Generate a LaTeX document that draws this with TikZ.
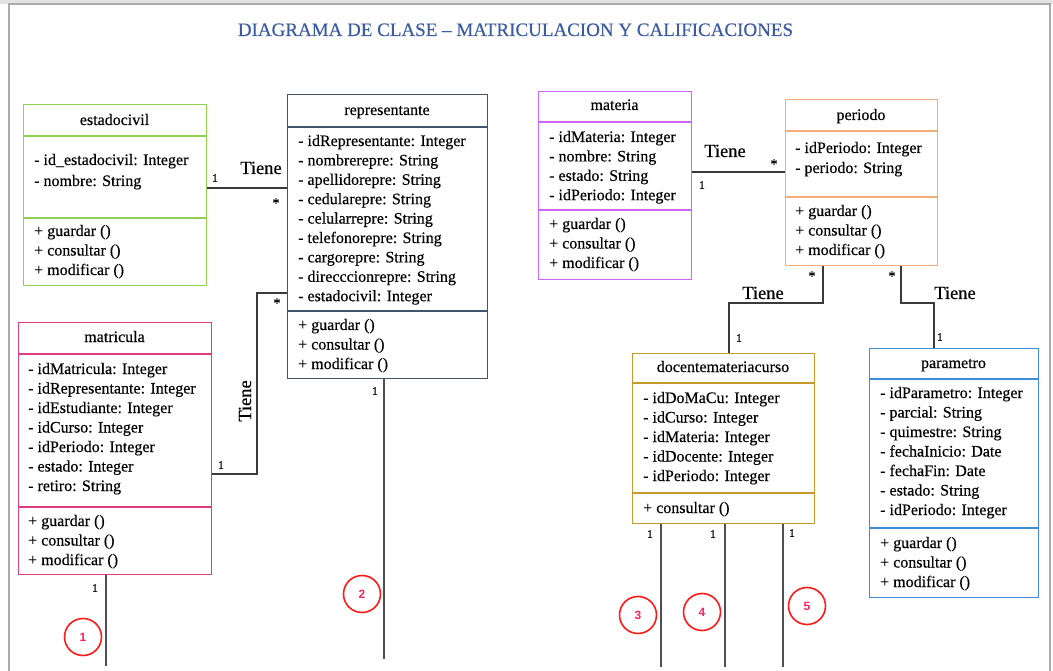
\documentclass[tikz,border=0pt]{standalone}
\usepackage{fontspec}
\setmainfont{Liberation Serif}[FakeBold=0.35]
\newfontfamily\numfont{Liberation Sans}
\definecolor{titleblue}{HTML}{3B5BA5}
\definecolor{cgreen}{HTML}{92D050}
\definecolor{cslate}{HTML}{44546A}
\definecolor{cpink}{HTML}{E03C84}
\definecolor{cviolet}{HTML}{CC66FF}
\definecolor{corange}{HTML}{F5AC78}
\definecolor{cgold}{HTML}{C49A2A}
\definecolor{cblue}{HTML}{3C8DD3}
\definecolor{linegray}{HTML}{3A3A3A}
\definecolor{stubgray}{HTML}{4F4F4F}
\definecolor{framegray}{HTML}{ABABAB}
\definecolor{markred}{HTML}{FF1A1A}
\definecolor{marktext}{HTML}{F5245A}

\tikzset{
  cls/.style={draw=#1, line width=1.3pt, fill=white, inner sep=0pt, anchor=north west},
  hd/.style={font=\fontsize{16}{19}\selectfont, anchor=base, inner sep=0pt},
  ln/.style={font=\fontsize{16}{19}\selectfont, anchor=base west, inner sep=0pt},
  mult/.style={font=\fontsize{11.5}{12}\selectfont, inner sep=0pt},
  star/.style={font=\fontsize{14}{14}\selectfont, inner sep=0pt},
  rel/.style={font=\fontsize{18.5}{20}\selectfont, anchor=base, inner sep=0pt},
  assoc/.style={draw=linegray, line width=1.5pt},
  stub/.style={draw=stubgray, line width=2pt},
  refmark/.style={circle, draw=markred, line width=1.6pt, minimum size=37pt,
    inner sep=0pt, text=marktext, font=\fontsize{12}{12}\numfont\bfseries},
}

% a class box: name, colour, x1, y1, width, height, header rule y, divider y
\newcommand\umlbox[8]{%
  \node[cls=#2, minimum width=#5pt, minimum height=#6pt] (#1) at (#3,#4) {};
  \draw[#2, line width=1.3pt] (#1.west |- 0,#7) -- (#1.east |- 0,#7);
  \draw[#2, line width=1.3pt] (#1.west |- 0,#8) -- (#1.east |- 0,#8);
}
% text lines of a class: name prefix, x, first baseline, step, list
\newcommand\umllines[5]{%
  \foreach \t [count=\i from 0] in {#5}
    \node[ln] (#1-\i) at (#2,{#3+#4*\i}) {\t};
}

\begin{document}
\begin{tikzpicture}[x=1pt, y=-1pt]
\useasboundingbox (0,0) rectangle (1053,671);

% page edge
\fill[gray!22] (0,0) rectangle (1053,4);
\draw[framegray, line width=1.8pt] (9,671) -- (9,4) -- (1050,4) -- (1050,671);

% heading
\node[font=\fontsize{19}{22}\selectfont, text=titleblue, anchor=base, inner sep=0pt]
  (title) at (515.5,36) {DIAGRAMA DE CLASE – MATRICULACION Y CALIFICACIONES};

% estadocivil
\umlbox{ec}{cgreen}{23}{104}{183}{181}{136}{218}
\node[hd] (ec-t) at (114.5,125) {estadocivil};
\umllines{eca}{34}{165}{21}{- id\_estadocivil: Integer, - nombre: String}
\umllines{ecm}{34}{236}{19.5}{+ guardar (), + consultar (), + modificar ()}

% representante
\umlbox{rep}{cslate}{287}{94}{200}{284}{127}{311}
\node[hd] (rep-t) at (387,115) {representante};
\umllines{repa}{298}{146}{19.4}{- idRepresentante: Integer, - nombrerepre: String,
  - apellidorepre: String, - cedularepre: String, - celularrepre: String,
  - telefonorepre: String, - cargorepre: String, - direcccionrepre: String,
  - estadocivil: Integer}
\umllines{repm}{298}{330}{19.5}{+ guardar (), + consultar (), + modificar ()}

% matricula
\umlbox{mat}{cpink}{18}{322}{193}{252}{354}{507}
\node[hd] (mat-t) at (114.5,342) {matricula};
\umllines{mata}{28}{374}{19.5}{- idMatricula: Integer, - idRepresentante: Integer,
  - idEstudiante: Integer, - idCurso: Integer, - idPeriodo: Integer,
  - estado: Integer, - retiro: String}
\umllines{matm}{28}{526}{19.5}{+ guardar (), + consultar (), + modificar ()}

% materia
\umlbox{mte}{cviolet}{538}{91}{153}{188}{122}{210}
\node[hd] (mte-t) at (614.5,110) {materia};
\umllines{mtea}{549}{142}{19.4}{- idMateria: Integer, - nombre: String,
  - estado: String, - idPeriodo: Integer}
\umllines{mtem}{549}{229}{19.5}{+ guardar (), + consultar (), + modificar ()}

% periodo
\umlbox{per}{corange}{785}{99}{152}{166}{131}{197}
\node[hd] (per-t) at (861,120) {periodo};
\umllines{pera}{795}{153}{20}{- idPeriodo: Integer, - periodo: String}
\umllines{perm}{795}{216}{19.5}{+ guardar (), + consultar (), + modificar ()}

% docentemateriacurso
\umlbox{dmc}{cgold}{632}{353}{182}{170}{383}{493}
\node[hd] (dmc-t) at (723,372) {docentemateriacurso};
\umllines{dmca}{643}{403}{19.5}{- idDoMaCu: Integer, - idCurso: Integer,
  - idMateria: Integer, - idDocente: Integer, - idPeriodo: Integer}
\umllines{dmcm}{643}{513}{19.5}{+ consultar ()}

% parametro
\umlbox{par}{cblue}{869}{348}{169}{249}{379}{528}
\node[hd] (par-t) at (953.5,368) {parametro};
\umllines{para}{880}{398}{19.5}{- idParametro: Integer, - parcial: String,
  - quimestre: String, - fechaInicio: Date, - fechaFin: Date,
  - estado: String, - idPeriodo: Integer}
\umllines{parm}{880}{548}{19.5}{+ guardar (), + consultar (), + modificar ()}

% estadocivil -- representante
\draw[assoc] (ec.east |- 0,188) -- (rep.west |- 0,188);
\node[rel] (l1) at (261,174) {Tiene};
\node[mult] (m1a) at (215,178) {1};
\node[star] (m1b) at (276,203) {*};

% matricula -- representante
\coordinate (k1) at (257,474);
\coordinate (k2) at (257,293);
\draw[assoc] (mat.east |- k1) -- (k1) -- (k2) -- (rep.west |- k2);
\node[rel, rotate=90, anchor=center] (l2) at (245,401) {Tiene};
\node[mult] (m2a) at (221,465) {1};
\node[star] (m2b) at (277,303) {*};

% materia -- periodo
\draw[assoc] (mte.east |- 0,172) -- (per.west |- 0,172);
\node[rel] (l3) at (725,157) {Tiene};
\node[mult] (m3a) at (702,185) {1};
\node[star] (m3b) at (774,164) {*};

% periodo -- docentemateriacurso
\coordinate (k3) at (823,303);
\coordinate (k4) at (729,303);
\draw[assoc] (per.south -| k3) -- (k3) -- (k4) -- (dmc.north -| k4);
\node[rel] (l4) at (763,299) {Tiene};
\node[mult] (m4a) at (739,338) {1};
\node[star] (m4b) at (812,276) {*};

% periodo -- parametro
\coordinate (k5) at (901,303);
\coordinate (k6) at (934,303);
\draw[assoc] (per.south -| k5) -- (k5) -- (k6) -- (par.north -| k6);
\node[rel] (l5) at (955,299) {Tiene};
\node[mult] (m5a) at (940,337) {1};
\node[star] (m5b) at (892,276) {*};

% open-ended links leaving the page, with their reference marks
\coordinate (s1) at (106,666);
\draw[stub] (mat.south -| s1) -- (s1);
\node[mult] (m6) at (95,588) {1};
\node[refmark] (r1) at (83,637) {1};

\coordinate (s2) at (384,659);
\draw[stub] (rep.south -| s2) -- (s2);
\node[mult] (m7) at (375,391) {1};
\node[refmark] (r2) at (362,594) {2};

\coordinate (s3) at (661,667);
\coordinate (s4) at (725,667);
\coordinate (s5) at (783,667);
\draw[stub] (dmc.south -| s3) -- (s3);
\draw[stub] (dmc.south -| s4) -- (s4);
\draw[stub] (dmc.south -| s5) -- (s5);
\node[mult] (m8) at (650,534) {1};
\node[mult] (m9) at (713,534) {1};
\node[mult] (m10) at (792,533) {1};
\node[refmark] (r3) at (638,615) {3};
\node[refmark] (r4) at (702,612) {4};
\node[refmark] (r5) at (807,606) {5};

\end{tikzpicture}
\end{document}
